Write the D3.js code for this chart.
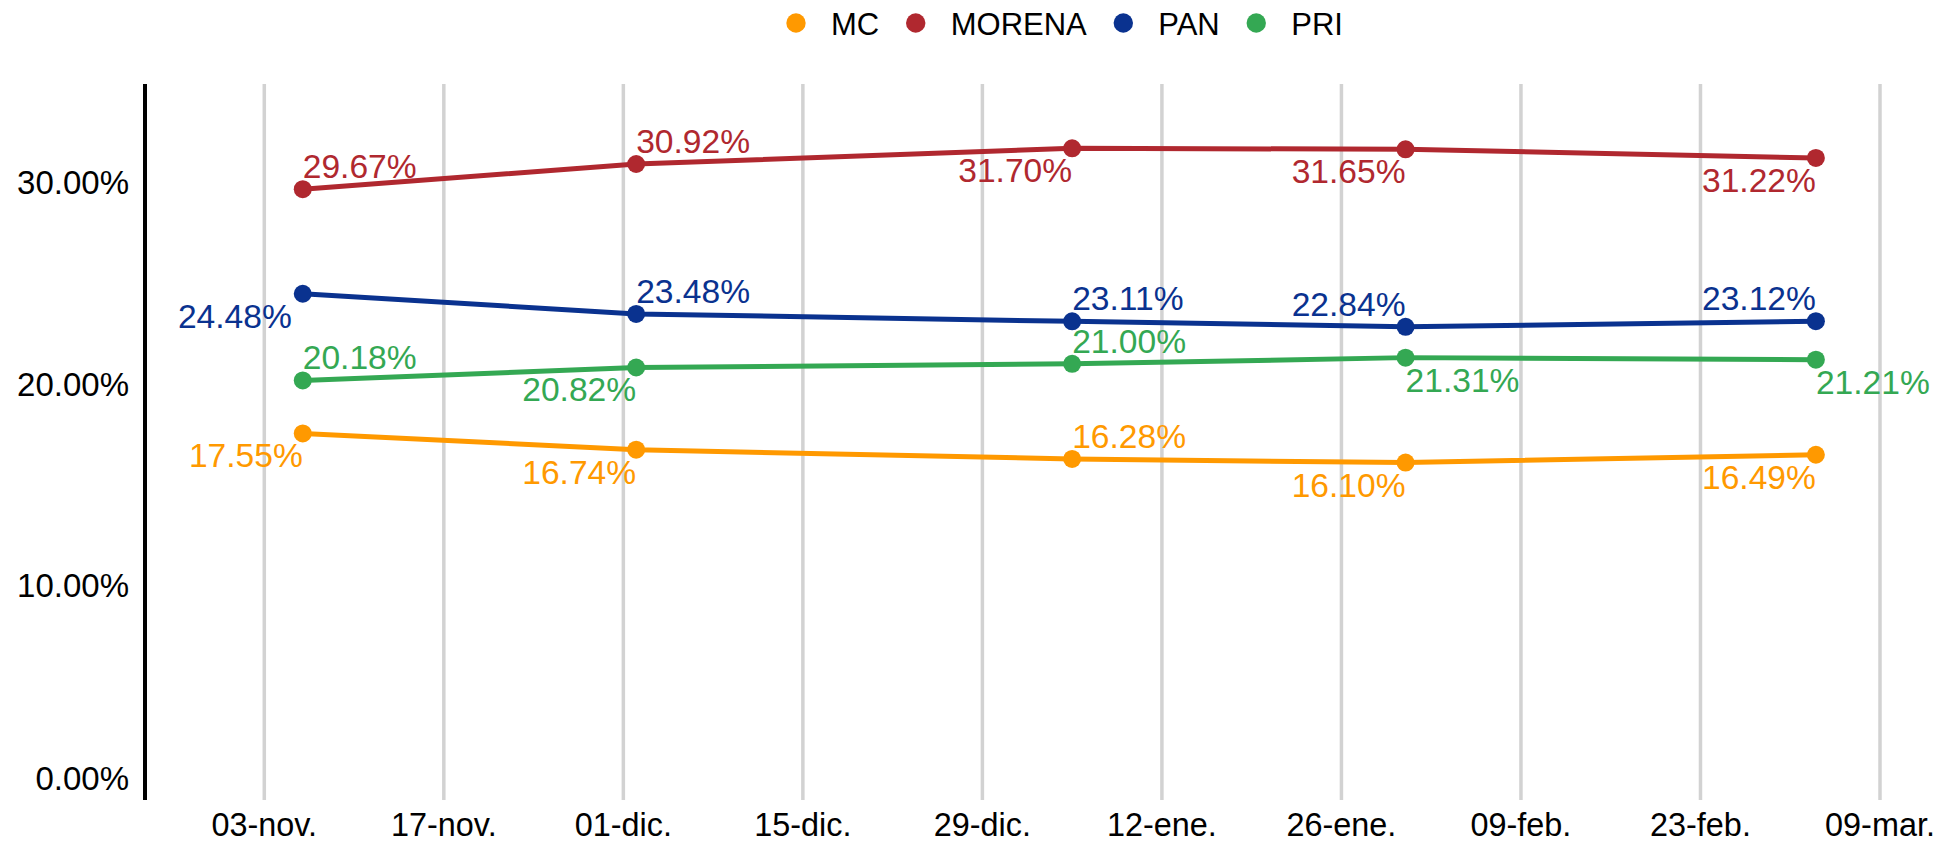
<!DOCTYPE html>
<html lang="es">
<head>
<meta charset="utf-8">
<style>
  body { margin: 0; background: #fff; font-family: "Liberation Sans", Arial, Helvetica, sans-serif; }
  svg { display: block; }
  .grid line { stroke: #d2d2d2; stroke-width: 3.5px; }
  .xlbl { font-size: 32.4px; }
  .ylbl { font-size: 33px; }
  .vlbl { font-size: 33.6px; }
</style>
</head>
<body>
<div id="chart"></div>
<script src="https://cdn.jsdelivr.net/npm/d3@7"></script>
<script>
// poll dates
var dates = ["2024-11-06", "2024-12-02", "2025-01-05", "2025-01-31", "2025-03-04"];

// series (percent)
var parties = ["MC", "MORENA", "PAN", "PRI"];
var mc     = [17.55, 16.74, 16.28, 16.10, 16.49];
var morena = [29.67, 30.92, 31.70, 31.65, 31.22];
var pan    = [24.48, 23.48, 23.11, 22.84, 23.12];
var pri    = [20.18, 20.82, 21.00, 21.31, 21.21];

// axis ticks
var yTicks = [0, 10, 20, 30];
var xTicks = ["2024-11-03", "2024-11-17", "2024-12-01", "2024-12-15", "2024-12-29",
              "2025-01-12", "2025-01-26", "2025-02-09", "2025-02-23", "2025-03-09"];
var meses = ["ene.", "feb.", "mar.", "abr.", "may.", "jun.", "jul.", "ago.", "sep.", "oct.", "nov.", "dic."];

var colors = { MC: "#ff9900", MORENA: "#b0282f", PAN: "#0a328f", PRI: "#34a853" };

// where each value label sits: a = above, b = below, r = right of point, l = left
// (a trailing "+" pushes the label a bit further out so it clears the line)
var labelPos = {
    MC:     ["bl", "bl", "ar", "bl", "bl"],
    MORENA: ["ar", "ar", "bl", "bl", "bl"],
    PAN:    ["bl+", "ar", "ar", "al", "al"],
    PRI:    ["ar", "bl", "ar", "br", "br"]
};

var values = { MC: mc, MORENA: morena, PAN: pan, PRI: pri };

var width = 1954, height = 842;
var plotLeft = 145, plotTop = 84, plotBottom = 800;

var parse = d3.utcParse("%Y-%m-%d");

var x = d3.scaleUtc()
    .domain([parse(xTicks[0]), parse(xTicks[xTicks.length - 1])])
    .range([264.3, 1880]);

var y = d3.scaleLinear()
    .domain([-0.645, 34.89])
    .range([plotBottom, plotTop]);

var svg = d3.select("#chart").append("svg")
    .attr("width", width)
    .attr("height", height);

// vertical gridlines
svg.append("g").attr("class", "grid")
    .selectAll("line")
    .data(xTicks)
    .enter().append("line")
    .attr("x1", function (d) { return x(parse(d)); })
    .attr("x2", function (d) { return x(parse(d)); })
    .attr("y1", plotTop)
    .attr("y2", plotBottom);

// x tick labels
svg.append("g")
    .selectAll("text")
    .data(xTicks)
    .enter().append("text")
    .attr("class", "xlbl")
    .attr("x", function (d) { return x(parse(d)); })
    .attr("y", 836)
    .attr("text-anchor", "middle")
    .attr("fill", "#000")
    .text(function (d) {
        var t = parse(d);
        return d3.utcFormat("%d")(t) + "-" + meses[t.getUTCMonth()];
    });

// y axis line
svg.append("line")
    .attr("x1", plotLeft).attr("x2", plotLeft)
    .attr("y1", plotTop).attr("y2", plotBottom)
    .attr("stroke", "#000")
    .attr("stroke-width", 4);

// y tick labels
svg.append("g")
    .selectAll("text")
    .data(yTicks)
    .enter().append("text")
    .attr("class", "ylbl")
    .attr("x", 129)
    .attr("y", function (d) { return Math.min(y(d), plotBottom - 22); })
    .attr("dy", "0.35em")
    .attr("text-anchor", "end")
    .attr("fill", "#000")
    .text(function (d) { return d.toFixed(2) + "%"; });

var line = d3.line()
    .x(function (d) { return x(d.date); })
    .y(function (d) { return y(d.v); });

parties.forEach(function (p) {
    var pts = values[p].map(function (v, i) {
        return { date: parse(dates[i]), v: v, pos: labelPos[p][i] };
    });
    var g = svg.append("g");

    g.append("path")
        .datum(pts)
        .attr("d", line)
        .attr("fill", "none")
        .attr("stroke", colors[p])
        .attr("stroke-width", 5)
        .attr("stroke-linejoin", "round");

    g.selectAll("circle")
        .data(pts)
        .enter().append("circle")
        .attr("cx", function (d) { return x(d.date); })
        .attr("cy", function (d) { return y(d.v); })
        .attr("r", 9)
        .attr("fill", colors[p]);

    g.selectAll("text")
        .data(pts)
        .enter().append("text")
        .attr("class", "vlbl")
        .attr("x", function (d) {
            var nudge = d.pos[2] === "+" ? 11 : 0;
            return x(d.date) + (d.pos[1] === "r" ? nudge : -nudge);
        })
        .attr("y", function (d) { return y(d.v) + (d.pos[0] === "a" ? -11 : 34); })
        .attr("text-anchor", function (d) { return d.pos[1] === "r" ? "start" : "end"; })
        .attr("fill", colors[p])
        .text(function (d) { return d.v.toFixed(2) + "%"; });
});

// legend
var legend = svg.append("g").attr("class", "legend");
var lx = 796;
parties.forEach(function (p) {
    legend.append("circle")
        .attr("cx", lx).attr("cy", 23).attr("r", 9.7)
        .attr("fill", colors[p]);
    var t = legend.append("text")
        .attr("x", lx + 35)
        .attr("y", 35)
        .attr("font-size", "31px")
        .attr("fill", "#000")
        .text(p);
    lx += 35 + t.node().getComputedTextLength() + 36.5;
});
</script>
</body>
</html>
